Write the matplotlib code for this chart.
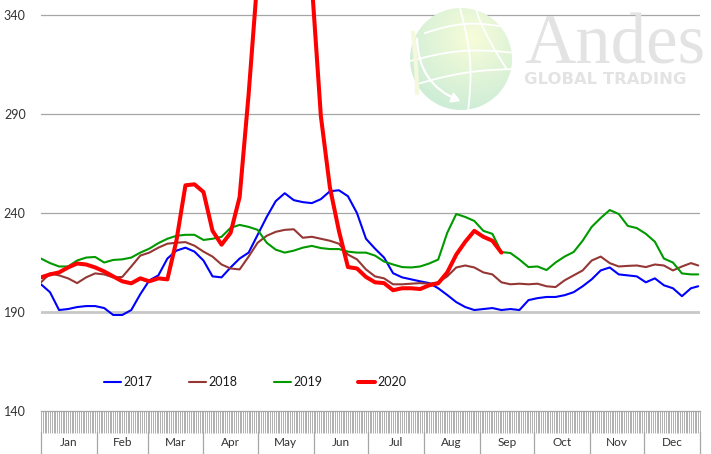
import numpy as np
import matplotlib
matplotlib.use("Agg")
import matplotlib.pyplot as plt
from matplotlib.patches import Circle, FancyArrowPatch
from matplotlib.lines import Line2D
import matplotlib.transforms as mtransforms

plt.rcParams['font.family'] = ['Lato', 'DejaVu Sans']

# ---------------- data ----------------
days = list(range(0, 361, 5)) + [364]

v2017 = [204, 200, 191, 191.5, 192.5, 193, 193, 192, 188.5, 188.5,
         191, 199, 206, 208.5, 217, 221, 222.5, 220.5, 216, 208,
         207.5, 212.5, 217, 220, 229, 238, 246, 250, 246.5, 245.5,
         245, 247, 251, 251.5, 248.5, 240, 227, 222, 217.5, 209.6,
         207.5, 206.5, 205.5, 204.6, 202, 198.6, 195, 192.5, 191, 191.5,
         192, 191, 191.5, 191, 196, 197, 197.6, 197.6, 198.5, 200,
         203, 206.5, 211, 212.5, 209, 208.5, 208, 205, 207, 203.5,
         202, 198, 202, 203]

v2018 = [205, 209.5, 208.5, 207, 204.6, 207.5, 209.5, 209, 207.5, 207.7,
         213, 218.5, 220, 222.5, 224.5, 225, 225.3, 223.5, 220.5, 218,
         214, 212, 211.5, 218, 225, 228.5, 230.5, 231.5, 231.8, 227.5,
         228, 227, 226, 224.5, 219, 216.6, 211.5, 208, 207, 204,
         204, 204.3, 204.6, 204.3, 205, 208, 212.5, 213.5, 212.5, 210,
         209, 205, 204, 204.3, 204, 204.3, 203, 202.6, 206, 208.5,
         211, 216, 218, 214.7, 213, 213.3, 213.5, 212.7, 214, 213.5,
         211, 213, 214.7, 213.5]

v2019 = [217, 214.7, 213, 213, 216, 217.5, 217.8, 215, 216.3, 216.6,
         217.5, 220, 222, 224.8, 227, 228.5, 229, 229, 226.4, 227,
         228, 232.5, 234, 233, 231.5, 225, 221.5, 220, 221, 222.5,
         223.4, 222.3, 221.8, 221.8, 220.5, 220, 220, 218.5, 215.5, 214,
         212.7, 212.5, 213, 214.5, 216.5, 230, 239.5, 238, 236, 231,
         229.5, 220.3, 219.8, 216.5, 212.7, 213, 211.2, 215, 218, 220.3,
         226, 233, 237.5, 241.5, 239.5, 233.5, 232.4, 229.5, 225.5, 217,
         215, 209.5, 209, 209]

v2020 = [207.5, 209, 210, 212.5, 214.5, 214, 212.5, 210.5, 208, 205.5,
         204.5, 207, 205.5, 207, 206.5, 226, 254, 254.5, 250.6, 231,
         224, 230, 248, 300, 360, 385, 398, 402, 400, 392,
         356, 289, 253, 231, 212.7, 212, 207.7, 205, 204.6, 201,
         202, 202, 201.6, 203.5, 204.5, 210, 219, 225.5, 231, 228,
         226, 220] + [np.nan] * 22

month_labels = ['Jan', 'Feb', 'Mar', 'Apr', 'May', 'Jun',
                'Jul', 'Aug', 'Sep', 'Oct', 'Nov', 'Dec']
month_starts = [0, 31, 59, 90, 120, 151, 181, 212, 243, 273, 304, 334, 365]

series = [('2017', v2017, '#0000FF', 1.5),
          ('2018', v2018, '#953735', 1.5),
          ('2019', v2019, '#009A00', 1.5),
          ('2020', v2020, '#FF0000', 2.9)]

y_ticks = [140, 190, 240, 290, 340]

# ---------------- figure ----------------
W, H = 711, 454
fig = plt.figure(figsize=(W / 100, H / 100), dpi=100)
left, right, top, bottom = 41, 700, 0, 411
ax = fig.add_axes([left / W, (H - bottom) / H, (right - left) / W, (bottom - top) / H])
ax.set_facecolor('none')

# gridlines
for yv in y_ticks[1:]:
    if yv == 190:
        ax.axhline(yv, color='#C8C8C8', lw=2.0, zorder=1)
    else:
        ax.axhline(yv, color='#A6A6A6', lw=0.9, zorder=1)

for name, vals, col, lw in series:
    ax.plot(days, vals, color=col, lw=lw, label=name, zorder=3,
            solid_joinstyle='round', solid_capstyle='round')

ax.set_xlim(0, 365)
ax.set_ylim(140, 347.6)
ax.set_yticks(y_ticks)
ax.set_yticklabels([str(v) for v in y_ticks])
ax.tick_params(axis='y', length=0, pad=11, labelsize=9, labelcolor='#333333')

# dense category ticks
ax.set_xticks(np.arange(0, 366, 1))
ax.set_xticklabels([])
ax.tick_params(axis='x', which='major', direction='out', length=15.5,
               width=0.55, color='#9a9a9a')

for s in ['top', 'right', 'left']:
    ax.spines[s].set_visible(False)
ax.spines['bottom'].set_color('#A6A6A6')
ax.spines['bottom'].set_linewidth(0.9)

# month boxes
trans = mtransforms.blended_transform_factory(ax.transData, ax.transAxes)
ax_h = bottom - top
y_sep_top = -(432 - bottom) / ax_h
y_sep_bot = -(H - bottom) / ax_h
y_lab = -(443 - bottom) / ax_h
for b in month_starts:
    ax.add_line(Line2D([b, b], [y_sep_top, y_sep_bot], transform=trans,
                       color='#A6A6A6', lw=0.9, clip_on=False))
for i, m in enumerate(month_labels):
    mid = (month_starts[i] + month_starts[i + 1]) / 2
    ax.text(mid, y_lab, m, transform=trans, ha='center', va='center',
            fontsize=8.5, color='#333333', clip_on=False)

# ---------------- watermark logo (over gridlines) ----------------
wm = fig.add_axes([0, 0, 1, 1], zorder=2)
wm.set_xlim(0, W)
wm.set_ylim(H, 0)
wm.axis('off')
wm.patch.set_alpha(0)

gcx, gcy, gr = 461, 59, 51
clip = Circle((gcx, gcy), gr, transform=wm.transData, facecolor='none', edgecolor='none')
wm.add_patch(clip)
gx, gy = np.meshgrid(np.linspace(gcx - gr, gcx + gr, 120), np.linspace(gcy - gr, gcy + gr, 120))
dist = np.clip(np.hypot(gx - 472, gy - 38) / 85, 0, 1)
c_in = np.array([0.97, 0.99, 0.85])
c_out = np.array([0.78, 0.92, 0.84])
img = c_in[None, None, :] * (1 - dist[..., None]) + c_out[None, None, :] * dist[..., None]
im = wm.imshow(img, extent=(gcx - gr, gcx + gr, gcy + gr, gcy - gr), zorder=1,
               interpolation='bilinear')
im.set_clip_path(clip)
wm.set_xlim(0, W)
wm.set_ylim(H, 0)

# globe grid
tt = np.linspace(0, 1, 50)
curves = [
    (410 + 105 * tt, 61 - 6 * np.sin(np.pi * tt) - 8 * tt),
    (414 + 100 * tt, 85 - 4 * np.sin(np.pi * tt) - 16 * tt),
    (425 + 80 * tt, 33 - 6 * np.sin(np.pi * tt) - 6 * tt),
    (460 + 8 * tt + 6 * np.sin(np.pi * tt), 8 + 104 * tt),
    (476 + 30 * tt ** 1.3, 8 + 60 * tt),
]
for cx_, cy_ in curves:
    ln, = wm.plot(cx_, cy_, color='white', lw=1.3, zorder=2)
    ln.set_clip_path(clip)
wm.plot(413 + 4 * np.sin(np.pi * tt / 2), 33 + 60 * tt, color='#f4f8dc', lw=3, zorder=2)
arrow = FancyArrowPatch((417, 36), (463, 102), connectionstyle='arc3,rad=0.35',
                        arrowstyle='-|>,head_length=5,head_width=3', color='white',
                        lw=1.6, zorder=3)
wm.add_patch(arrow)

wm.text(524, 63, 'Andes', fontsize=51, family=['Liberation Serif', 'DejaVu Serif'],
        color='#e3e3e3', va='baseline', ha='left', zorder=4)
wm.text(524, 84, 'GLOBAL TRADING', fontsize=11.8, fontweight='bold',
        family=['DejaVu Sans'], color='#e3e3e3', va='baseline', ha='left', zorder=4)

# legend
leg = fig.legend(loc='center', bbox_to_anchor=(255.5 / W, (H - 382) / H),
                 ncol=4, frameon=False, fontsize=9, handlelength=1.36,
                 handletextpad=0.2, columnspacing=2.9, borderaxespad=0)
for t in leg.get_texts():
    t.set_color('#1a1a1a')

fig.savefig('out.png', dpi=100)
